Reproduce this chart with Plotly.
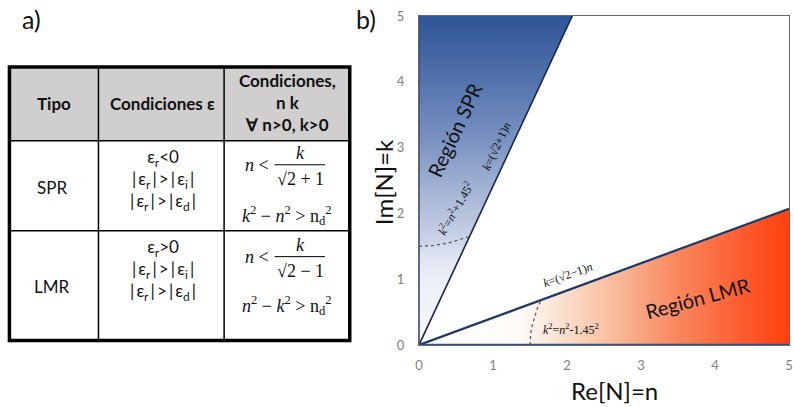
import plotly.graph_objects as go

# ---------------- data ----------------
spr_region_n = [0, 0, 2.071, 0]
spr_region_k = [0, 5, 5, 0]
lmr_region_n = [0, 5, 5, 0]
lmr_region_k = [0, 0, 2.071, 0]
spr_line_n = [0, 2.071]
spr_line_k = [0, 5]
lmr_line_n = [0, 5]
lmr_line_k = [0, 2.071]
spr_curve_n = [0, 0.2, 0.4, 0.6, 0.683]
spr_curve_k = [1.5, 1.513, 1.552, 1.616, 1.648]
lmr_curve_n = [1.5, 1.51, 1.53, 1.56, 1.6, 1.648]
lmr_curve_k = [0, 0.173, 0.301, 0.428, 0.557, 0.683]
axis_n = [0, 5]
axis_k0 = [0, 0]
left_n = [0, 0]
left_k = [0, 5]
tick_vals = [0, 1, 2, 3, 4, 5]

TS = "\u2009"
header_cells = ["<b>Tipo</b>", "<b>Condiciones ε</b>"]
header_col3 = ["<b>Condiciones,</b>", "<b>n k</b>", "<b>∀ n>0, k>0</b>"]
row_types = ["SPR", "LMR"]
spr_eps = ["ε<sub>r</sub><0",
           f"|{TS}ε<sub>r</sub>{TS}|{TS}>{TS}|{TS}ε<sub>i</sub>{TS}|",
           f"|{TS}ε<sub>r</sub>{TS}|{TS}>{TS}|{TS}ε<sub>d</sub>{TS}|"]
lmr_eps = ["ε<sub>r</sub>>0",
           f"|{TS}ε<sub>r</sub>{TS}|{TS}>{TS}|{TS}ε<sub>i</sub>{TS}|",
           f"|{TS}ε<sub>r</sub>{TS}|{TS}>{TS}|{TS}ε<sub>d</sub>{TS}|"]
spr_denom = "√2 + 1"
lmr_denom = "√2 − 1"
spr_ineq = "<i>k</i><sup>2</sup> − <i>n</i><sup>2</sup> > n<sub>d</sub><sup>2</sup>"
lmr_ineq = "<i>n</i><sup>2</sup> − <i>k</i><sup>2</sup> > n<sub>d</sub><sup>2</sup>"

# ---------------- geometry helpers (pixel -> paper) ----------------
L, R, T, B = 419, 793, 16, 345.5
W, H = R - L, B - T
def X(px):
    return (px - L) / W
def Y(py):
    return (B - py) / H

SANS = "Lato"
SERIF = "Liberation Serif"
DARK = "#111111"

fig = go.Figure()

fig.add_trace(go.Scatter(
    x=spr_region_n, y=spr_region_k, mode="none", fill="toself",
    fillgradient=dict(type="vertical", start=0, stop=5,
                      colorscale=[[0, "#f6f7fb"], [0.18, "#eef1f8"], [0.27, "#dfe5f1"],
                                  [0.32, "#c9d3e7"], [0.45, "#a9b8d7"], [0.62, "#7b93c2"],
                                  [0.8, "#5473ad"], [1, "#2e5597"]]),
    hoverinfo="skip", showlegend=False))
fig.add_trace(go.Scatter(
    x=lmr_region_n, y=lmr_region_k, mode="none", fill="toself",
    fillgradient=dict(type="horizontal", start=0, stop=5,
                      colorscale=[[0, "#ffffff"], [0.27, "#fffbf8"], [0.38, "#fbe0cf"],
                                  [0.52, "#f8bc9c"], [0.68, "#f98a62"], [0.85, "#fc5f33"],
                                  [1, "#ff3d0a"]]),
    hoverinfo="skip", showlegend=False))

line_style = dict(mode="lines", hoverinfo="skip", showlegend=False)
fig.add_trace(go.Scatter(x=spr_curve_n, y=spr_curve_k, line=dict(color="#555555", width=1.2, dash="dot"), **line_style))
fig.add_trace(go.Scatter(x=lmr_curve_n, y=lmr_curve_k, line=dict(color="#555555", width=1.2, dash="dot"), **line_style))
fig.add_trace(go.Scatter(x=spr_line_n, y=spr_line_k, line=dict(color="#1c2640", width=1.6), **line_style))
fig.add_trace(go.Scatter(x=lmr_line_n, y=lmr_line_k, line=dict(color="#203864", width=2.2), **line_style))
fig.add_trace(go.Scatter(x=axis_n, y=axis_k0, line=dict(color="#2f528f", width=2.4), cliponaxis=False, **line_style))
fig.add_trace(go.Scatter(x=left_n, y=left_k, line=dict(color="#2f528f", width=1.6), cliponaxis=False, **line_style))

# ---------------- table shapes ----------------
shapes = []
shapes.append(dict(type="rect", xref="paper", yref="paper", x0=X(5), x1=X(349), y0=Y(67), y1=Y(141),
                   fillcolor="#d0cece", line=dict(width=0), layer="below"))
for py in [141, 231]:
    shapes.append(dict(type="line", xref="paper", yref="paper", x0=X(5), x1=X(349), y0=Y(py), y1=Y(py),
                       line=dict(color="black", width=1.5)))
for px in [95, 222]:
    shapes.append(dict(type="line", xref="paper", yref="paper", x0=X(px), x1=X(px), y0=Y(67), y1=Y(341),
                       line=dict(color="black", width=1.5)))
shapes.append(dict(type="rect", xref="paper", yref="paper", x0=X(5), x1=X(349), y0=Y(67), y1=Y(341),
                   line=dict(color="black", width=3.5)))
# fraction bars
for py in [165, 257]:
    shapes.append(dict(type="line", xref="paper", yref="paper", x0=X(273), x1=X(324), y0=Y(py), y1=Y(py),
                       line=dict(color="black", width=1)))

annotations = []
def ann(px, py, text, size=17, family=SANS, color=DARK, angle=0, **kw):
    annotations.append(dict(xref="paper", yref="paper", x=X(px), y=Y(py), text=text, showarrow=False,
                            font=dict(size=size, family=family, color=color), textangle=angle,
                            xanchor="center", yanchor="middle", **kw))

ann(27, 19, "a)", size=25)
ann(365, 19, "b)", size=25)
ann(50, 104, header_cells[0])
ann(160, 104, header_cells[1])
ann(286, 103, "<br>".join(header_col3))
ann(48, 188, row_types[0])
ann(48, 287, row_types[1])
ann(160, 180, "<br>".join(spr_eps))
ann(160, 270, "<br>".join(lmr_eps))
# fractions
ann(255, 165, "<i>n</i> <", size=18, family=SERIF)
ann(299, 153, "<i>k</i>", size=18, family=SERIF)
ann(299, 179, spr_denom, size=18, family=SERIF)
ann(286, 216, spr_ineq, size=18, family=SERIF)
ann(255, 257, "<i>n</i> <", size=18, family=SERIF)
ann(299, 245, "<i>k</i>", size=18, family=SERIF)
ann(299, 271, lmr_denom, size=18, family=SERIF)
ann(286, 306, lmr_ineq, size=18, family=SERIF)

# axis titles
ann(617, 391, "Re[N]=n", size=24)
ann(383, 182, "Im[N]=k", size=24, angle=-90)

# chart labels (data coordinates)
def dann(x, y, text, size, family, angle):
    annotations.append(dict(xref="x", yref="y", x=x, y=y, text=text, showarrow=False,
                            font=dict(size=size, family=family, color=DARK), textangle=angle,
                            xanchor="center", yanchor="middle"))
dann(0.48, 3.27, "Región SPR", 20, SANS, -65)
dann(1.05, 3.02, "<i>k</i>=(√2+1)<i>n</i>", 12, SERIF, -65)
dann(0.49, 2.08, "<i>k</i><sup>2</sup>=<i>n</i><sup>2</sup>+1.45<sup>2</sup>", 12, SERIF, -60)
dann(2.0, 1.07, "<i>k</i>=(√2−1)<i>n</i>", 12, SERIF, -20)
dann(2.06, 0.24, "<i>k</i><sup>2</sup>=<i>n</i><sup>2</sup>-1.45<sup>2</sup>", 12, SERIF, 0)
dann(3.76, 0.72, "Región LMR", 20, SANS, -15)

axis_common = dict(range=[0, 5], showgrid=False, zeroline=False, tickvals=tick_vals,
                   tickfont=dict(size=13, family=SANS, color="#7f7f7f"),
                   showline=True, mirror=True, linecolor="#666666", linewidth=1,
                   ticks="outside", tickcolor="rgba(0,0,0,0)", fixedrange=True,
                   ticklabeloverflow="allow")
fig.update_layout(
    width=794, height=407,
    margin=dict(l=L, r=794 - R, t=T, b=407 - B),
    paper_bgcolor="white", plot_bgcolor="white",
    xaxis=dict(**axis_common, ticklen=8),
    yaxis=dict(**axis_common, ticklen=11),
    shapes=shapes, annotations=annotations,
    showlegend=False,
)
fig.write_html("out.html")
